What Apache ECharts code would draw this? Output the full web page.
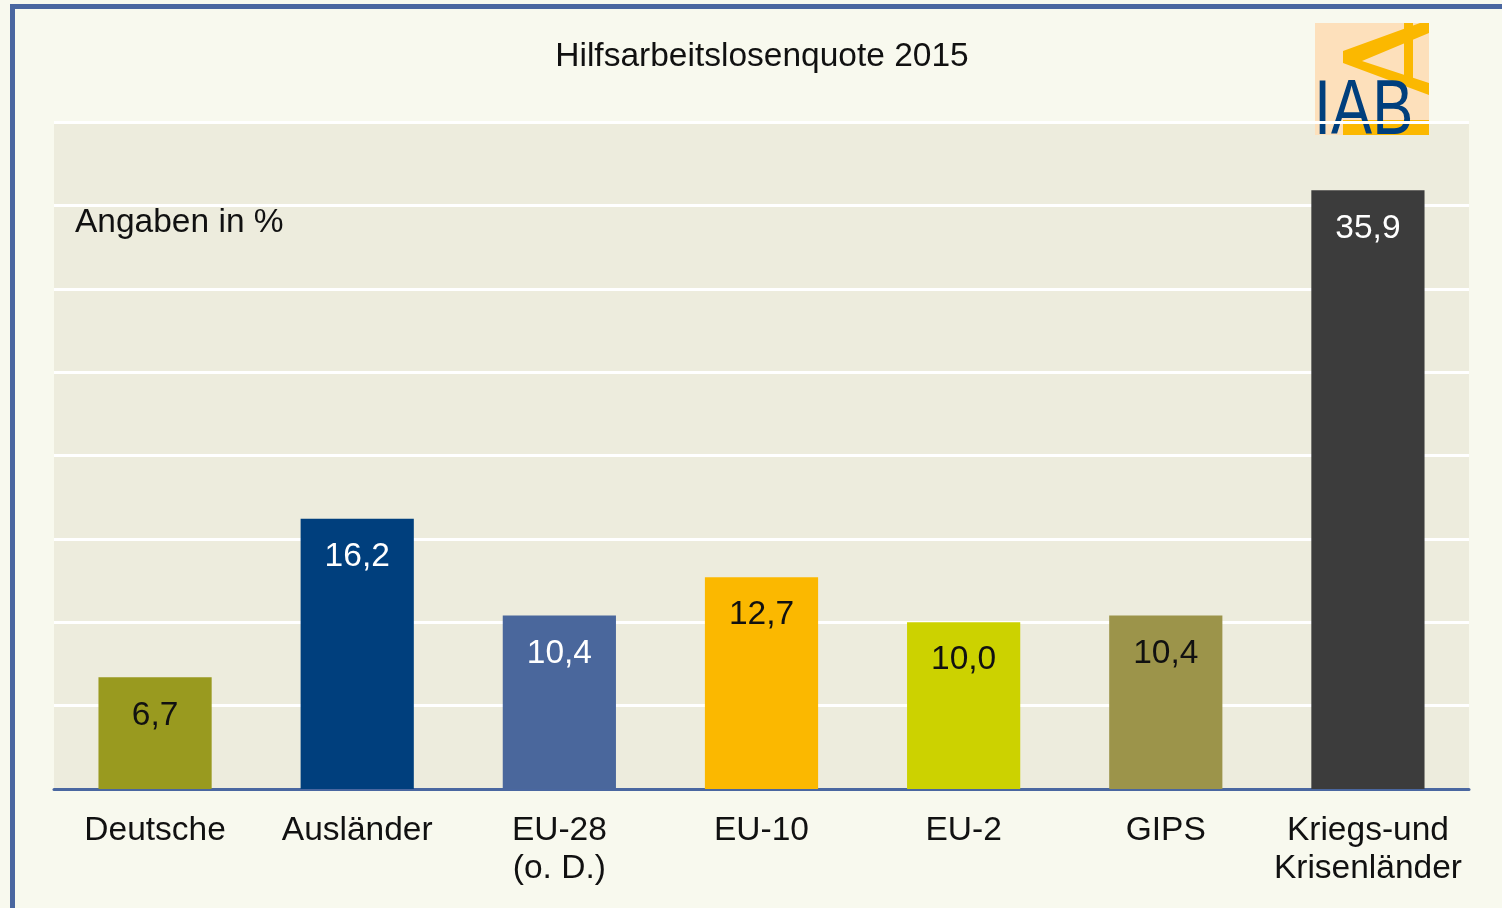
<!DOCTYPE html>
<html>
<head>
<meta charset="utf-8">
<title>Hilfsarbeitslosenquote 2015</title>
<script src="https://cdn.jsdelivr.net/npm/echarts@6/dist/echarts.min.js"></script>
<style>
  html, body { margin: 0; padding: 0; background: #f8f9ee; }
  #chart_1 { width: 1502px; height: 908px; }
</style>
</head>
<body>
<div id="chart_1"></div>
<script>
// Kategorien und Werte (Angaben in %)
var categories = ['Deutsche', 'Ausländer', 'EU-28\n(o. D.)', 'EU-10', 'EU-2', 'GIPS', 'Kriegs-und\nKrisenländer'];
var values = [6.7, 16.2, 10.4, 12.7, 10.0, 10.4, 35.9];
var barColors = ['#999a1f', '#003f7d', '#4a679c', '#fbb800', '#ccd200', '#9c944a', '#3c3c3c'];
var labelColors = ['#111', '#fff', '#fff', '#111', '#111', '#111', '#fff'];

(function () {
    var myChart = echarts.init(document.getElementById('chart_1'));
    var font = '"Liberation Sans", Arial, sans-serif';
    var fs = 33.5;

    var data = [];
    for (var i = 0; i < values.length; i++) {
        data.push({
            value: values[i],
            itemStyle: { color: barColors[i] },
            label: { color: labelColors[i] }
        });
    }

    var option = {
        backgroundColor: '#f8f9ee',
        animation: false,
        title: {
            text: 'Hilfsarbeitslosenquote 2015',
            left: 757,
            textAlign: 'center',
            top: 35,
            textStyle: { color: '#111', fontSize: fs, fontWeight: 'normal', fontFamily: font }
        },
        grid: {
            left: 54, right: 33, top: 122, bottom: 119,
            show: true, backgroundColor: '#edecdd', borderWidth: 0
        },
        xAxis: {
            type: 'category',
            data: categories,
            axisTick: { show: false },
            axisLine: { lineStyle: { color: '#4a67a0', width: 3 } },
            axisLabel: {
                color: '#111', fontSize: fs, fontFamily: font,
                lineHeight: 38, margin: 23, interval: 0
            }
        },
        yAxis: {
            type: 'value',
            min: 0, max: 40, interval: 5,
            axisLabel: { show: false },
            axisLine: { show: false },
            axisTick: { show: false },
            splitLine: { lineStyle: { color: '#ffffff', width: 3 } }
        },
        graphic: [
            // Rahmen
            { type: 'rect', shape: { x: 10, y: 4, width: 1492, height: 5 }, style: { fill: '#4a67a0' } },
            { type: 'rect', shape: { x: 10, y: 4, width: 5, height: 904 }, style: { fill: '#4a67a0' } },
            { type: 'text', left: 75, top: 206,
              style: { text: 'Angaben in %', fill: '#111', fontSize: fs, fontFamily: font } },
            // IAB Logo
            { type: 'rect', shape: { x: 1315, y: 23, width: 114, height: 112 }, style: { fill: '#fde0bb' } },
            { type: 'polygon', shape: { points: [[1420, 23], [1429, 23], [1429, 33], [1362, 61], [1429, 83], [1429, 95], [1343, 63], [1343, 51]] },
              style: { fill: '#fbb800' } },
            { type: 'rect', shape: { x: 1404, y: 23, width: 9, height: 57 }, style: { fill: '#fbb800' } },
            { type: 'rect', shape: { x: 1343, y: 120, width: 86, height: 15 }, style: { fill: '#fbb800' } },
            { type: 'text', x: 1314, y: 151, scaleX: 0.8,
              style: { text: 'IAB', fill: '#003f7d', fontSize: 77, fontFamily: font,
                       textAlign: 'left', textVerticalAlign: 'bottom' } }
        ],
        series: [{
            type: 'bar',
            data: data,
            barWidth: '56%',
            label: {
                show: true,
                position: 'insideTop',
                distance: 21,
                fontSize: fs,
                fontFamily: font,
                formatter: function (p) { return p.value.toFixed(1).replace('.', ','); }
            }
        }]
    };

    myChart.setOption(option);
    window.addEventListener('resize', function () { myChart.resize(); });
})();
</script>
</body>
</html>
